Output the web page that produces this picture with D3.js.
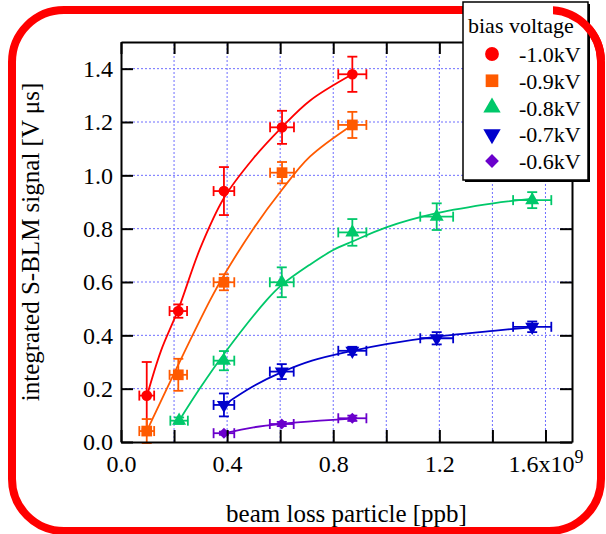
<!DOCTYPE html>
<html><head><meta charset="utf-8">
<script src="https://cdn.jsdelivr.net/npm/d3@7"></script>
<style>body{margin:0;background:#fff} svg{display:block} text{font-family:"Liberation Serif","Times New Roman",serif;fill:#000}</style>
</head><body><svg id="c" width="606" height="534"></svg>
<script>
// ---- data ----
const xTicks = [0, 0.2, 0.4, 0.6, 0.8, 1.0, 1.2, 1.4, 1.6];
const xLabeled = [0, 0.4, 0.8, 1.2, 1.6];
const yTicks = [0, 0.2, 0.4, 0.6, 0.8, 1.0, 1.2, 1.4];
const seriesNames = ["-1.0kV", "-0.9kV", "-0.8kV", "-0.7kV", "-0.6kV"];
const seriesColors = ["#ff0000", "#ff5a00", "#00c86a", "#0000cc", "#6a00cc"];
const seriesShapes = ["circle", "square", "triangle", "triangleDown", "diamond"];

const xRed = [0.097, 0.216, 0.388, 0.607, 0.872];
const yRed = [0.174, 0.491, 0.941, 1.18, 1.379];
const yErrRed = [0.126, 0.025, 0.09, 0.062, 0.066];
const xErrRed = [0.028, 0.033, 0.039, 0.045, 0.053];

const xOrange = [0.097, 0.216, 0.388, 0.607, 0.872];
const yOrange = [0.041, 0.252, 0.599, 1.01, 1.189];
const yErrOrange = [0.045, 0.06, 0.03, 0.04, 0.049];
const xErrOrange = [0.028, 0.033, 0.039, 0.045, 0.053];

const xGreen = [0.219, 0.388, 0.606, 0.872, 1.19, 1.55];
const yGreen = [0.08, 0.305, 0.599, 0.786, 0.845, 0.907];
const yErrGreen = [0.012, 0.036, 0.056, 0.05, 0.05, 0.03];
const xErrGreen = [0.033, 0.039, 0.045, 0.053, 0.062, 0.072];

const xBlue = [0.388, 0.606, 0.872, 1.19, 1.55];
const yBlue = [0.139, 0.264, 0.342, 0.389, 0.432];
const yErrBlue = [0.043, 0.028, 0.015, 0.023, 0.02];
const xErrBlue = [0.039, 0.045, 0.053, 0.062, 0.072];

const xPurple = [0.388, 0.606, 0.872];
const yPurple = [0.033, 0.0675, 0.089];
const yErrPurple = [0.006, 0.008, 0.01];
const xErrPurple = [0.039, 0.045, 0.053];

// fitted curves
const fitRedX = [0.097, 0.15, 0.217, 0.298, 0.388, 0.5, 0.606, 0.712, 0.872];
const fitRedY = [0.17, 0.34, 0.5, 0.725, 0.915, 1.065, 1.18, 1.28, 1.379];
const fitOrangeX = [0.097, 0.216, 0.335, 0.388, 0.499, 0.606, 0.712, 0.872];
const fitOrangeY = [0.041, 0.29, 0.53, 0.625, 0.8, 0.945, 1.07, 1.189];
const fitGreenX = [0.219, 0.3, 0.388, 0.549, 0.606, 0.712, 0.8, 0.872, 1.0, 1.19, 1.403, 1.548];
const fitGreenY = [0.08, 0.205, 0.33, 0.532, 0.589, 0.665, 0.72, 0.752, 0.805, 0.858, 0.895, 0.912];
const fitBlueX = [0.388, 0.5, 0.606, 0.72, 0.872, 1.0, 1.19, 1.403, 1.55];
const fitBlueY = [0.139, 0.21, 0.262, 0.305, 0.342, 0.367, 0.395, 0.417, 0.43];
const fitPurpleX = [0.388, 0.5, 0.606, 0.75, 0.872];
const fitPurpleY = [0.033, 0.055, 0.068, 0.08, 0.088];

const series = [
  {x: xRed, y: yRed, ye: yErrRed, xe: xErrRed, fx: fitRedX, fy: fitRedY},
  {x: xOrange, y: yOrange, ye: yErrOrange, xe: xErrOrange, fx: fitOrangeX, fy: fitOrangeY},
  {x: xGreen, y: yGreen, ye: yErrGreen, xe: xErrGreen, fx: fitGreenX, fy: fitGreenY},
  {x: xBlue, y: yBlue, ye: yErrBlue, xe: xErrBlue, fx: fitBlueX, fy: fitBlueY},
  {x: xPurple, y: yPurple, ye: yErrPurple, xe: xErrPurple, fx: fitPurpleX, fy: fitPurpleY}
].map((s, i) => Object.assign(s, {name: seriesNames[i], color: seriesColors[i], shape: seriesShapes[i]}));

// ---- drawing ----
const svg = d3.select("#c");
const x = d3.scaleLinear().domain([0, 1.7]).range([121, 572]);
const y = d3.scaleLinear().domain([0, 1.5]).range([442, 42]);

// grid
const grid = svg.append("g").attr("stroke", "#6e6eff").attr("stroke-width", 1).attr("stroke-dasharray", "2,2");
grid.selectAll("line.v").data(xTicks.filter(d => d > 0)).join("line").attr("class", "v")
  .attr("x1", d => x(d)).attr("x2", d => x(d)).attr("y1", y(0)).attr("y2", y(1.5));
grid.selectAll("line.h").data(yTicks.filter(d => d > 0)).join("line").attr("class", "h")
  .attr("y1", d => y(d)).attr("y2", d => y(d)).attr("x1", x(0)).attr("x2", x(1.7));

// fit curves
const line = d3.line().x(d => x(d[0])).y(d => y(d[1])).curve(d3.curveCatmullRom.alpha(0.5));
series.forEach(s => {
  svg.append("path").datum(s.fx.map((v, i) => [v, s.fy[i]]))
    .attr("d", line).attr("fill", "none").attr("stroke", s.color).attr("stroke-width", 1.8);
});

// error bars + markers
function symbolPath(shape, size) {
  if (shape === "circle") return d3.symbol(d3.symbolCircle, size)();
  if (shape === "square") return d3.symbol(d3.symbolSquare, size)();
  if (shape === "triangle" || shape === "triangleDown") return d3.symbol(d3.symbolTriangle, size)();
  return d3.symbol(d3.symbolSquare, size)();
}
function symbolRot(shape) { return shape === "triangleDown" ? 180 : (shape === "diamond" ? 45 : 0); }
const markerSize = {circle: 90, square: 115, triangle: 85, triangleDown: 85, diamond: 60};
const legendSize = {circle: 150, square: 160, triangle: 130, triangleDown: 130, diamond: 95};
const cap = 5;
series.forEach(s => {
  const g = svg.append("g").attr("stroke", s.color).attr("stroke-width", 1.8);
  s.x.forEach((xv, i) => {
    const yv = s.y[i], ye = s.ye[i], xe = s.xe[i];
    const px = x(xv), py = y(yv);
    g.append("line").attr("x1", px).attr("x2", px).attr("y1", y(yv - ye)).attr("y2", y(yv + ye));
    g.append("line").attr("x1", px - cap).attr("x2", px + cap).attr("y1", y(yv - ye)).attr("y2", y(yv - ye));
    g.append("line").attr("x1", px - cap).attr("x2", px + cap).attr("y1", y(yv + ye)).attr("y2", y(yv + ye));
    g.append("line").attr("x1", x(xv - xe)).attr("x2", x(xv + xe)).attr("y1", py).attr("y2", py);
    g.append("line").attr("x1", x(xv - xe)).attr("x2", x(xv - xe)).attr("y1", py - cap).attr("y2", py + cap);
    g.append("line").attr("x1", x(xv + xe)).attr("x2", x(xv + xe)).attr("y1", py - cap).attr("y2", py + cap);
  });
  svg.append("g").selectAll("path").data(s.x.map((v, i) => [v, s.y[i]])).join("path")
    .attr("d", symbolPath(s.shape, markerSize[s.shape]))
    .attr("transform", d => `translate(${x(d[0])},${y(d[1])}) rotate(${symbolRot(s.shape)})`)
    .attr("fill", s.color);
});

// axes
function styleAxis(g) {
  g.select(".domain").attr("stroke", "#000").attr("stroke-width", 2);
  g.selectAll(".tick line").attr("stroke", "#000").attr("stroke-width", 2);
  g.selectAll(".tick text").attr("font-size", 24).attr("font-family", '"Liberation Serif", serif').attr("fill", "#000");
}
const fmtX = d => xLabeled.some(v => Math.abs(v - d) < 1e-9) ? d.toFixed(1) : "";
const gB = svg.append("g").attr("transform", `translate(0,${y(0)})`)
  .call(d3.axisBottom(x).tickValues(xTicks).tickSize(-12).tickSizeOuter(0).tickPadding(13).tickFormat(fmtX));
styleAxis(gB);
gB.selectAll(".tick text").filter(d => Math.abs(d - 1.6) < 1e-9).each(function () {
  const t = d3.select(this);
  t.text(null);
  t.append("tspan").text("1.6x10");
  t.append("tspan").attr("dy", "-0.5em").attr("font-size", "0.75em").text("9");
});
const gT = svg.append("g").attr("transform", `translate(0,${y(1.5)})`)
  .call(d3.axisTop(x).tickValues(xTicks).tickSize(-12).tickSizeOuter(0).tickFormat(""));
styleAxis(gT);
const gL = svg.append("g").attr("transform", `translate(${x(0)},0)`)
  .call(d3.axisLeft(y).tickValues(yTicks).tickSize(-12).tickSizeOuter(0).tickPadding(8).tickFormat(d3.format(".1f")));
styleAxis(gL);
const gR = svg.append("g").attr("transform", `translate(${x(1.7)},0)`)
  .call(d3.axisRight(y).tickValues(yTicks).tickSize(-12).tickSizeOuter(0).tickFormat(""));
styleAxis(gR);

// titles
svg.append("text").attr("x", (x(0) + x(1.7)) / 2).attr("y", 522).attr("text-anchor", "middle")
  .attr("font-size", 25).text("beam loss particle [ppb]");
svg.append("text").attr("transform", `translate(39,${(y(0) + y(1.5)) / 2}) rotate(-90)`).attr("text-anchor", "middle")
  .attr("font-size", 25).text("integrated S-BLM signal [V μs]");

// red frame
const frame = {x: 12, y: 10, w: 589, h: 521, r: 52};
function drawFrame(parent) {
  return parent.append("rect").attr("x", frame.x).attr("y", frame.y).attr("width", frame.w).attr("height", frame.h)
    .attr("rx", frame.r).attr("ry", frame.r).attr("fill", "none").attr("stroke", "#ff0000").attr("stroke-width", 8);
}
drawFrame(svg);

// legend
const lg = svg.append("g");
lg.append("rect").attr("x", 465).attr("y", 4).attr("width", 125).attr("height", 178).attr("fill", "#000");
lg.append("rect").attr("x", 463).attr("y", 2).attr("width", 125).attr("height", 178).attr("fill", "#fff")
  .attr("stroke", "#000").attr("stroke-width", 1.5);
// part of the frame that shows over the legend corner
svg.append("clipPath").attr("id", "cornerClip").append("rect").attr("x", 553).attr("y", 0).attr("width", 60).attr("height", 60);
drawFrame(svg.append("g").attr("clip-path", "url(#cornerClip)"));
lg.append("text").attr("x", 468).attr("y", 33).attr("font-size", 22).text("bias voltage");
const ly = d3.scaleLinear().domain([0, 4]).range([54, 161]);
series.forEach((s, i) => {
  lg.append("path").attr("d", symbolPath(s.shape, legendSize[s.shape]))
    .attr("transform", `translate(492,${ly(i)}) rotate(${symbolRot(s.shape)})`).attr("fill", s.color);
  lg.append("text").attr("x", 519).attr("y", ly(i) + 8).attr("font-size", 22).text(s.name);
});
</script></body></html>
